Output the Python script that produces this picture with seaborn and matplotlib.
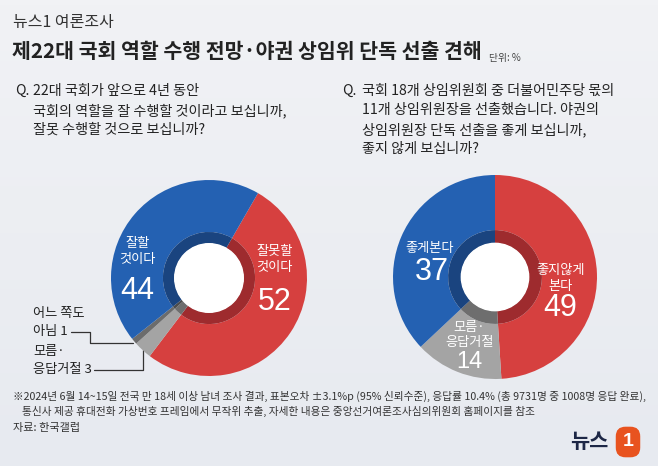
import numpy as np
import pandas as pd
import matplotlib.pyplot as plt
import seaborn as sns

sns.set_theme(style='white')
plt.rcParams['font.family'] = ['Noto Sans CJK KR', 'DejaVu Sans']

# Q1: 22대 국회 역할 수행 전망
q1_labels = ['잘못할 것이다', '모름·응답거절', '어느 쪽도 아님', '잘할 것이다']
q1_values = [52, 3, 1, 44]
# Q2: 야권 상임위원장 단독 선출
q2_labels = ['좋지않게 본다', '모름·응답거절', '좋게본다']
q2_values = [49, 14, 37]

df1 = pd.DataFrame({'label': q1_labels, 'value': q1_values})
df2 = pd.DataFrame({'label': q2_labels, 'value': q2_values})

blue, red, gray, dgray = '#2461b2', '#d6403f', '#a4a4a4', '#6c6c6c'
blue_in, red_in, gray_in, dgray_in = '#1a447f', '#9e2b2e', '#6e6e6e', '#4c4c4c'
num_font = ['Liberation Sans Narrow', 'Liberation Sans', 'DejaVu Sans']

W, H = 658, 466
fig = plt.figure(figsize=(6.58, 4.66), dpi=100)

# background in pixel coordinates
bg = fig.add_axes([0, 0, 1, 1])
bg.set_xlim(0, W)
bg.set_ylim(H, 0)
bg.axis('off')
grad = np.linspace(0, 1, 100).reshape(-1, 1)
bg.imshow(grad, extent=[0, W, H, 0], aspect='auto', zorder=0,
          cmap=sns.blend_palette(['#f1f2f5', '#e7eaf0'], as_cmap=True))

# titles
bg.text(13, 22, '뉴스1 여론조사', fontsize=11.5, color='#333333', va='center')
bg.text(12, 52, '제22대 국회 역할 수행 전망·야권 상임위 단독 선출 견해', fontsize=14.8,
        fontweight='bold', color='#222222', va='center')
bg.text(489, 58, '단위: %', fontsize=7, color='#444444', va='center')

# questions
qkw = dict(fontsize=10.2, color='#222222', va='top', linespacing=1.45)
bg.text(15, 84, 'Q.', **qkw)
bg.text(33, 84, '22대 국회가 앞으로 4년 동안\n국회의 역할을 잘 수행할 것이라고 보십니까,\n잘못 수행할 것으로 보십니까?', **qkw)
bg.text(342, 84, 'Q.', **qkw)
bg.text(362, 84, '국회 18개 상임위원회 중 더불어민주당 몫의\n11개 상임위원장을 선출했습니다. 야권의\n상임위원장 단독 선출을 좋게 보십니까,\n좋지 않게 보십니까?', **qkw)


def donut(cx, cy, r, values, outer, inner, start, ring, hole):
    ax = fig.add_axes([(cx - r) / W, 1 - (cy + r) / H, 2 * r / W, 2 * r / H])
    wedges, _ = ax.pie(values, colors=outer, startangle=start, counterclock=False,
                       radius=1, wedgeprops=dict(width=1 - ring, linewidth=0))
    ax.pie(values, colors=inner, startangle=start, counterclock=False,
           radius=ring, wedgeprops=dict(width=ring - hole, linewidth=0))
    ax.add_patch(plt.Circle((0, 0), hole, color='white', zorder=5))
    ax.set_xlim(-1, 1)
    ax.set_ylim(-1, 1)
    ax.axis('off')
    return ax, wedges


# left donut
cx1, cy1, r1 = 209, 278, 98
ax1, w1 = donut(cx1, cy1, r1, df1['value'], [red, gray, dgray, blue],
                [red_in, gray_in, dgray_in, blue_in], 60, 0.47, 0.35)
ax1.text(-0.73, 0.27, '잘할\n것이다', color='white', fontsize=9.5, ha='center', va='center', linespacing=1.3)
ax1.text(-0.73, -0.13, str(q1_values[3]), color='white', fontsize=22, ha='center', va='center', family=num_font)
ax1.text(0.67, 0.19, '잘못할\n것이다', color='white', fontsize=9.5, ha='center', va='center', linespacing=1.3)
ax1.text(0.67, -0.25, str(q1_values[0]), color='white', fontsize=22, ha='center', va='center', family=num_font)


def edge_px(w, cx, cy, r, rr=1.0):
    th = np.deg2rad((w.theta1 + w.theta2) / 2)
    return cx + r * rr * np.cos(th), cy - r * rr * np.sin(th)


# leader lines for the small wedges
ex, ey = edge_px(w1[2], cx1, cy1, r1, 1.02)
bg.plot([71, 90, 90, ex], [332, 332, ey, ey], color='#333333', lw=0.9)
gx, gy = edge_px(w1[1], cx1, cy1, r1, 1.0)
bg.plot([94, gx, gx], [370, 370, gy], color='#333333', lw=0.9)
bg.text(33, 314, '어느 쪽도', fontsize=9.5, color='#222222', va='center')
bg.text(33, 332, '아님 ' + str(q1_values[2]), fontsize=9.5, color='#222222', va='center')
bg.text(33, 352, '모름·', fontsize=9.5, color='#222222', va='center')
bg.text(33, 370, '응답거절 ' + str(q1_values[1]), fontsize=9.5, color='#222222', va='center')

# right donut
cx2, cy2, r2 = 495, 277, 102
ax2, w2 = donut(cx2, cy2, r2, df2['value'], [red, gray, blue],
                [red_in, gray_in, blue_in], 90, 0.46, 0.33)
ax2.text(-0.64, 0.28, '좋게본다', color='white', fontsize=9.5, ha='center', va='center')
ax2.text(-0.62, 0.05, str(q2_values[2]), color='white', fontsize=22, ha='center', va='center', family=num_font)
ax2.text(0.64, -0.01, '좋지않게\n본다', color='white', fontsize=9.5, ha='center', va='center', linespacing=1.3)
ax2.text(0.64, -0.30, str(q2_values[0]), color='white', fontsize=22, ha='center', va='center', family=num_font)
ax2.text(-0.25, -0.57, '모름·\n응답거절', color='white', fontsize=9.5, ha='center', va='center', linespacing=1.2)
ax2.text(-0.25, -0.83, str(q2_values[1]), color='white', fontsize=17, ha='center', va='center', family=num_font)

# footnotes
fkw = dict(fontsize=7.7, color='#333333', va='center')
bg.text(13, 396, '※2024년 6월 14~15일 전국 만 18세 이상 남녀 조사 결과, 표본오차 ±3.1%p (95% 신뢰수준), 응답률 10.4% (총 9731명 중 1008명 응답 완료),', **fkw)
bg.text(22, 411, '통신사 제공 휴대전화 가상번호 프레임에서 무작위 추출, 자세한 내용은 중앙선거여론조사심의위원회 홈페이지를 참조', **fkw)
bg.text(13, 428, '자료: 한국갤럽', fontsize=8, color='#333333', va='center')

# logo
bg.text(608, 442, '뉴스', fontsize=15, fontweight='bold', color='#1d2746', ha='right', va='center')
bg.text(628, 442, '1', fontsize=14, fontweight='bold', color='white', ha='center', va='center',
        family=num_font, bbox=dict(boxstyle='round,pad=0.35,rounding_size=0.5', fc='#e8531f', ec='none'))

fig.savefig('out.png', dpi=100)
